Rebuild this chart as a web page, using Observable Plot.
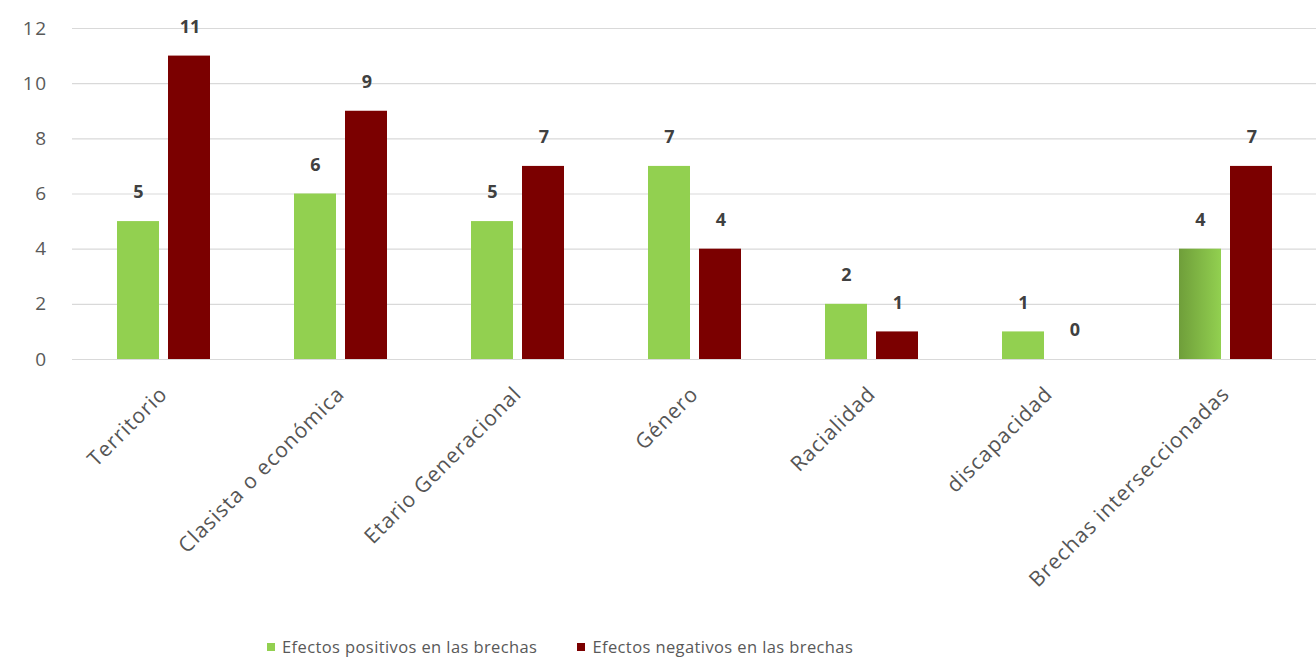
<!DOCTYPE html>
<html>
<head>
<meta charset="utf-8">
<script src="https://cdn.jsdelivr.net/npm/d3@7"></script>
<script src="https://cdn.jsdelivr.net/npm/@observablehq/plot@0.6"></script>
<style>
  html, body { margin: 0; padding: 0; background: #fff; }
  body { width: 1316px; height: 657px; overflow: hidden; font-family: "Open Sans", sans-serif; }
  #legend { display: flex; justify-content: flex-start; gap: 40px; padding-left: 267px; margin-top: 20px; font-size: 16.5px; color: #595959; letter-spacing: 0.4px; }
  #legend .item { display: flex; align-items: center; }
  #legend .sw { width: 8px; height: 8px; margin-right: 7px; display: inline-block; }
</style>
</head>
<body>
<div id="chart"></div>
<div id="legend"></div>
<script>
const categories = ["Territorio", "Clasista o económica", "Etario Generacional", "Género", "Racialidad", "discapacidad", "Brechas interseccionadas"];
const positivos = [5, 6, 5, 7, 2, 1, 4];
const negativos = [11, 9, 7, 4, 1, 0, 7];
const yTicks = [0, 2, 4, 6, 8, 10, 12];
const seriesNames = ["Efectos positivos en las brechas", "Efectos negativos en las brechas"];
const seriesColors = ["#92d050", "#7b0000"];

const pos = categories.map((c, i) => ({cat: c, v: positivos[i]}));
const neg = categories.map((c, i) => ({cat: c, v: negativos[i]}));

const chart = Plot.plot({
  width: 1316,
  height: 615,
  marginLeft: 72,
  marginRight: 0,
  marginTop: 28,
  marginBottom: 256,
  style: {fontFamily: "Open Sans, sans-serif", background: "#fff"},
  x: {domain: categories, paddingInner: 0.477, paddingOuter: 0.2385, label: null, tickSize: 0, tickPadding: 31, tickRotate: -45},
  y: {domain: [0, 12], ticks: yTicks, label: null, tickSize: 0, tickPadding: 25},
  marks: [
    Plot.ruleY(yTicks, {stroke: "#d9d9d9", strokeWidth: 1.2}),
    Plot.barY(pos, {x: "cat", y: "v", fill: seriesColors[0], insetRight: 51}),
    Plot.barY(neg, {x: "cat", y: "v", fill: seriesColors[1], insetLeft: 51}),
    Plot.text(pos, {x: "cat", y: "v", text: d => String(d.v), dx: -25.5, dy: -29, fontSize: 18, fontWeight: "bold", fill: "#404040"}),
    Plot.text(neg, {x: "cat", y: "v", text: d => String(d.v), dx: 26, dy: -29, fontSize: 18, fontWeight: "bold", fill: "#404040"})
  ]
});

const xl = chart.querySelector("g[aria-label='x-axis tick label']");
if (xl) { xl.setAttribute("font-size", "21"); xl.style.letterSpacing = "1px"; xl.setAttribute("fill", "#555"); }
const yl = chart.querySelector("g[aria-label='y-axis tick label']");
if (yl) { yl.setAttribute("font-size", "19"); yl.style.letterSpacing = "1.5px"; yl.setAttribute("fill", "#595959"); }

// subtle gradient on the last green bar, as in the reference
const ns = "http://www.w3.org/2000/svg";
const defs = document.createElementNS(ns, "defs");
const grad = document.createElementNS(ns, "linearGradient");
grad.setAttribute("id", "greenGrad");
grad.setAttribute("x1", "0"); grad.setAttribute("x2", "1"); grad.setAttribute("y1", "0"); grad.setAttribute("y2", "0");
[["0", "#6f9e3a"], ["1", "#92d050"]].forEach(([o, c]) => {
  const s = document.createElementNS(ns, "stop");
  s.setAttribute("offset", o); s.setAttribute("stop-color", c);
  grad.appendChild(s);
});
defs.appendChild(grad);
chart.insertBefore(defs, chart.firstChild);
const barGroups = chart.querySelectorAll("g[aria-label='bar']");
if (barGroups.length) {
  const greenRects = barGroups[0].querySelectorAll("rect");
  if (greenRects.length) greenRects[greenRects.length - 1].setAttribute("fill", "url(#greenGrad)");
}

document.getElementById("chart").appendChild(chart);

const legend = document.getElementById("legend");
seriesNames.forEach((name, i) => {
  const item = document.createElement("div");
  item.className = "item";
  const sw = document.createElement("span");
  sw.className = "sw";
  sw.style.background = seriesColors[i];
  item.appendChild(sw);
  item.appendChild(document.createTextNode(name));
  legend.appendChild(item);
});
</script>
</body>
</html>
